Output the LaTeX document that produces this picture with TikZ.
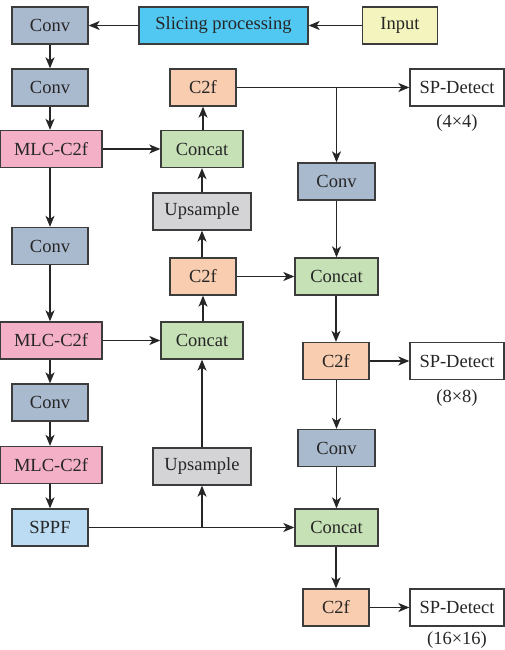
\documentclass[tikz,border=0pt]{standalone}
\usepackage{fontspec}
\setmainfont{Liberation Serif}
\usetikzlibrary{arrows.meta}
\definecolor{convc}{HTML}{A9B9CE}
\definecolor{slicec}{HTML}{50C8F2}
\definecolor{inputc}{HTML}{F4F4BE}
\definecolor{c2fc}{HTML}{F9CDB0}
\definecolor{mlcc}{HTML}{F4B0C6}
\definecolor{concatc}{HTML}{C6E1B6}
\definecolor{upc}{HTML}{D4D4D6}
\definecolor{sppfc}{HTML}{BCDCF3}
\definecolor{edgec}{HTML}{3C3C3C}
\tikzset{
  blk/.style={draw=edgec, line width=1.3pt, inner sep=0pt, minimum height=37pt,
    font=\fontsize{18.5}{22}\selectfont, text=black!85},
  lbl/.style={inner sep=0pt, font=\fontsize{18.5}{22}\selectfont, text=black!85},
  arr/.style={draw=black!85, line width=1.3pt, -{Stealth[length=11pt,width=9pt,inset=3pt]}},
  ln/.style={draw=black!85, line width=1.3pt}
}
\begin{document}
\begin{tikzpicture}[x=1pt,y=-1pt]
\useasboundingbox (0,0) rectangle (505,650);
% left column
\node[blk, fill=convc, minimum width=76pt] (conv1) at (50,25.5) {Conv};
\node[blk, fill=slicec, minimum width=169pt] (slice) at (223.5,25.5) {Slicing processing};
\node[blk, fill=inputc, minimum width=75pt] (input) at (400,25.5) {Input};
\node[blk, fill=convc, minimum width=76pt] (conv2) at (50,87.5) {Conv};
\node[blk, fill=mlcc, minimum width=102pt] (mlc1) at (51,149) {MLC-C2f};
\node[blk, fill=convc, minimum width=76pt] (conv3) at (50,246) {Conv};
\node[blk, fill=mlcc, minimum width=102pt] (mlc2) at (51,340.5) {MLC-C2f};
\node[blk, fill=convc, minimum width=76pt] (conv4) at (50,402.5) {Conv};
\node[blk, fill=mlcc, minimum width=102pt] (mlc3) at (51,465) {MLC-C2f};
\node[blk, fill=sppfc, minimum width=76pt] (sppf) at (50,527.5) {SPPF};
% middle column
\node[blk, fill=c2fc, minimum width=66pt] (c2ftop) at (203,87.5) {C2f};
\node[blk, fill=concatc, minimum width=82pt] (cat1) at (202,149) {Concat};
\node[blk, fill=upc, minimum width=98pt] (up1) at (202,211.5) {Upsample};
\node[blk, fill=c2fc, minimum width=66pt] (c2fmid) at (203,276.5) {C2f};
\node[blk, fill=concatc, minimum width=82pt] (cat2) at (202,340.5) {Concat};
\node[blk, fill=upc, minimum width=98pt] (up2) at (202,466.5) {Upsample};
% right column
\node[blk, fill=convc, minimum width=77pt] (rconv1) at (336.5,181.5) {Conv};
\node[blk, fill=concatc, minimum width=83pt] (rcat1) at (336.5,276.5) {Concat};
\node[blk, fill=c2fc, minimum width=66pt] (rc2f1) at (336,361) {C2f};
\node[blk, fill=convc, minimum width=77pt] (rconv2) at (336.5,448) {Conv};
\node[blk, fill=concatc, minimum width=83pt] (rcat2) at (336.5,527.5) {Concat};
\node[blk, fill=c2fc, minimum width=66pt] (rc2f2) at (336,607.5) {C2f};
% detect heads
\node[blk, fill=white, minimum width=94pt] (det1) at (457,87.5) {SP-Detect};
\node[blk, fill=white, minimum width=94pt] (det2) at (457,361) {SP-Detect};
\node[blk, fill=white, minimum width=94pt] (det3) at (457,607.5) {SP-Detect};
\node[lbl] (s1) at (457,123) {(4×4)};
\node[lbl] (s2) at (457,398) {(8×8)};
\node[lbl] (s3) at (457,640) {(16×16)};
% helper coordinates
\coordinate (b1) at (rconv1 |- c2ftop);
\coordinate (b2) at (up2 |- sppf);
% connectors
\draw[arr] (input) -- (slice);
\draw[arr] (slice) -- (conv1);
\draw[arr] (conv1) -- (conv2);
\draw[arr] (conv2) -- (conv2 |- mlc1.north);
\draw[arr] (conv3 |- mlc1.south) -- (conv3);
\draw[arr] (conv3) -- (conv3 |- mlc2.north);
\draw[arr] (conv4 |- mlc2.south) -- (conv4);
\draw[arr] (conv4) -- (conv4 |- mlc3.north);
\draw[arr] (sppf |- mlc3.south) -- (sppf);
\draw[arr] (mlc1) -- (cat1);
\draw[arr] (mlc2) -- (cat2);
\draw[arr] (sppf) -- (rcat2);
\draw[arr] (b2) -- (up2);
\draw[arr] (up2) -- (cat2);
\draw[arr] (cat2.north -| c2fmid) -- (c2fmid);
\draw[arr] (c2fmid.north -| up1) -- (up1);
\draw[arr] (up1) -- (cat1);
\draw[arr] (cat1.north -| c2ftop) -- (c2ftop);
\draw[arr] (c2ftop) -- (det1);
\draw[arr] (b1) -- (rconv1);
\draw[arr] (rconv1) -- (rcat1);
\draw[arr] (c2fmid) -- (rcat1);
\draw[arr] (rcat1.south -| rc2f1) -- (rc2f1);
\draw[arr] (rc2f1) -- (det2);
\draw[arr] (rc2f1.south -| rconv2) -- (rconv2);
\draw[arr] (rconv2) -- (rcat2);
\draw[arr] (rcat2.south -| rc2f2) -- (rc2f2);
\draw[arr] (rc2f2) -- (det3);
\end{tikzpicture}
\end{document}
